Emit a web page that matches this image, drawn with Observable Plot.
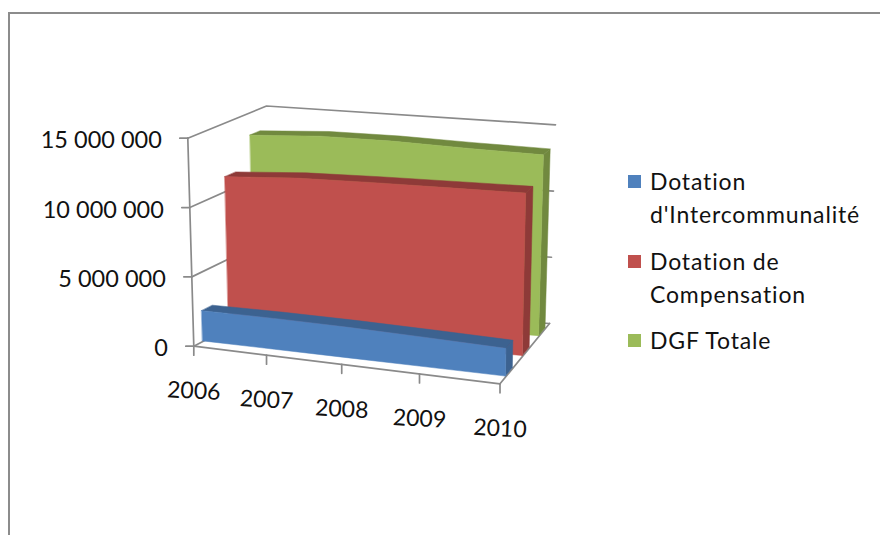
<!DOCTYPE html>
<html>
<head>
<meta charset="utf-8">
<script src="https://cdn.jsdelivr.net/npm/d3@7"></script>
<script src="https://cdn.jsdelivr.net/npm/@observablehq/plot@0.6"></script>
<style>
  html, body { margin: 0; padding: 0; background: #fff; overflow: hidden; }
  #page { position: relative; width: 880px; height: 535px; font-family: Lato, sans-serif; color: #111; overflow: hidden; }
  #frame { position: absolute; left: 7.5px; top: 11.5px; width: 880px; height: 540px; border-left: 2.5px solid #8c8c8c; border-top: 2.5px solid #8c8c8c; }
  #chart { position: absolute; left: 0; top: 0; }
  #legend { position: absolute; left: 628px; top: 0; font-size: 23px; line-height: 33px; letter-spacing: .85px; }
  .entry { position: absolute; left: 0; white-space: nowrap; }
  .swatch { position: absolute; left: 0; top: 10px; width: 13px; height: 13px; }
  .label { position: absolute; left: 22px; top: 0; }
</style>
</head>
<body>
<div id="page"><div id="frame"></div><div id="chart"></div><div id="legend"></div></div>
<script>
// ---- Data ----
const years = [2006, 2007, 2008, 2009, 2010];
const valueTicks = [0, 5000000, 10000000, 15000000];
const valueTickLabels = ["0", "5 000 000", "10 000 000", "15 000 000"];
const intercommunalite = [2190000, 2220000, 2180000, 2080000, 1950000];
const compensation = [11050000, 11400000, 11550000, 11650000, 11750000];
const dgfTotale = [13300000, 13600000, 13620000, 13500000, 13420000];

const seriesNames = ["Dotation\nd'Intercommunalité", "Dotation de\nCompensation", "DGF Totale"];
const frontColors = ["#4f81bd", "#c0504d", "#9bbb59"];
const darkColors = ["#3c6290", "#8e3a38", "#71893f"];
const depthSpans = [[0.12, 0.26], [0.46, 0.60], [0.79, 0.92]];
const seriesValues = [intercommunalite, compensation, dgfTotale];

// ---- Scales: the front-left edge of the box defines year and value units ----
const xDomain = [2006, 2010], xRange = [193.3, 499.5];
const yDomain = [0, 15000000], yRange = [345.7, 137.7];
const toYear = d3.scaleLinear().domain(xRange).range(xDomain);
const toValue = d3.scaleLinear().domain(yRange).range(yDomain);
const yearsPerPixel = (xDomain[1] - xDomain[0]) / (xRange[1] - xRange[0]);
const valuePerPixel = (yDomain[1] - yDomain[0]) / (yRange[0] - yRange[1]);

// ---- 3D box view (screen corners of the floor, and value-axis vectors) ----
const floor = {fl: [193.3, 345.7], fr: [499.5, 383.3], bl: [270, 305.5], br: [549, 323]};
const rise = {fl: [-6, 208], fr: [3, 215], bl: [-4, 200], br: [6, 198.7]};
const persp = 0.07;
const mix = (a, b, t) => a + (b - a) * t;
function project(year, value, depth) {
  const t0 = (year - 2006) / 4;
  const s = t0 / (1 + persp * (1 - t0));
  const corner = (k) => mix(mix(floor.fl[k], floor.fr[k], s), mix(floor.bl[k], floor.br[k], s), depth);
  const riser = (k) => mix(mix(rise.fl[k], rise.fr[k], s), mix(rise.bl[k], rise.br[k], s), depth);
  const v = value / 15000000;
  return {x: toYear(corner(0) + riser(0) * v), y: toValue(corner(1) - riser(1) * v)};
}

// ---- Marks ----
function band(rows, a, b, fill) {
  return Plot.area(rows, {
    x1: (d) => project(...a(d)).x, y1: (d) => project(...a(d)).y,
    x2: (d) => project(...b(d)).x, y2: (d) => project(...b(d)).y,
    fill, stroke: fill, strokeWidth: 0.5
  });
}
function seriesMarks(i) {
  const [d0, d1] = depthSpans[i];
  const rows = years.map((year, k) => ({year, value: seriesValues[i][k]}));
  const last = rows[rows.length - 1];
  const sideRows = [d0, d1].map((depth) => ({...last, depth}));
  return [
    band(rows, (d) => [d.year, d.value, d0], (d) => [d.year, d.value, d1], darkColors[i]),
    band(sideRows, (d) => [d.year, 0, d.depth], (d) => [d.year, d.value, d.depth], darkColors[i]),
    band(rows, (d) => [d.year, 0, d0], (d) => [d.year, d.value, d0], frontColors[i])
  ];
}
function rule(points) {
  return Plot.line(points, {
    x: (d) => project(...d).x, y: (d) => project(...d).y,
    stroke: "#8a8a8a", strokeWidth: 1.7
  });
}
const yMin = years[0], yMax = years[years.length - 1];
const gridMarks = valueTicks.map((v) => rule([[yMin, v, 0], [yMin, v, 1], [yMax, v, 1]]));

const plot = Plot.plot({
  width: 880, height: 535,
  marginTop: 0, marginRight: 0, marginBottom: 0, marginLeft: 0,
  style: {background: "transparent", fontFamily: "Lato, sans-serif", overflow: "visible"},
  x: {type: "linear", domain: xDomain, range: xRange, axis: null},
  y: {type: "linear", domain: yDomain, range: yRange, axis: null},
  marks: [
    ...gridMarks,
    rule([[yMax, 0, 0], [yMax, 0, 1]]),
    ...seriesMarks(2),
    ...seriesMarks(1),
    ...seriesMarks(0),
    rule([[yMin, 15000000, 0], [yMin, 0, 0], [yMax, 0, 0]]),
    // value axis ticks
    ...valueTicks.map((v) => Plot.line([-8, 0], {
      x: (off) => project(yMin, v, 0).x + off * yearsPerPixel,
      y: () => project(yMin, v, 0).y,
      stroke: "#8a8a8a", strokeWidth: 1.7
    })),
    // year axis ticks
    ...years.map((yr) => Plot.line([0, 9], {
      x: () => project(yr, 0, 0).x,
      y: (off) => project(yr, 0, 0).y - off * valuePerPixel,
      stroke: "#8a8a8a", strokeWidth: 1.7
    })),
    // labels
    Plot.text(valueTicks, {
      x: (v) => project(yMin, v, 0).x, y: (v) => project(yMin, v, 0).y,
      text: (v, i) => valueTickLabels[i], textAnchor: "end", dx: -26, dy: 2.5,
      fontSize: 23.5, fill: "#111"
    }),
    Plot.text(years, {
      x: (yr) => project(yr, 0, 0).x, y: (yr) => project(yr, 0, 0).y,
      text: String, dy: 45, fontSize: 23, fill: "#111", rotate: 3
    })
  ]
});
document.getElementById("chart").appendChild(plot);

// ---- Legend ----
const legendTops = [165, 245, 324];
const legend = document.getElementById("legend");
seriesNames.forEach((name, i) => {
  const entry = document.createElement("div");
  entry.className = "entry";
  entry.style.top = legendTops[i] + "px";
  const sw = document.createElement("div");
  sw.className = "swatch";
  sw.style.background = frontColors[i];
  const label = document.createElement("div");
  label.className = "label";
  label.innerHTML = name.replace("\n", "<br>");
  entry.append(sw, label);
  legend.append(entry);
});
</script>
</body>
</html>
